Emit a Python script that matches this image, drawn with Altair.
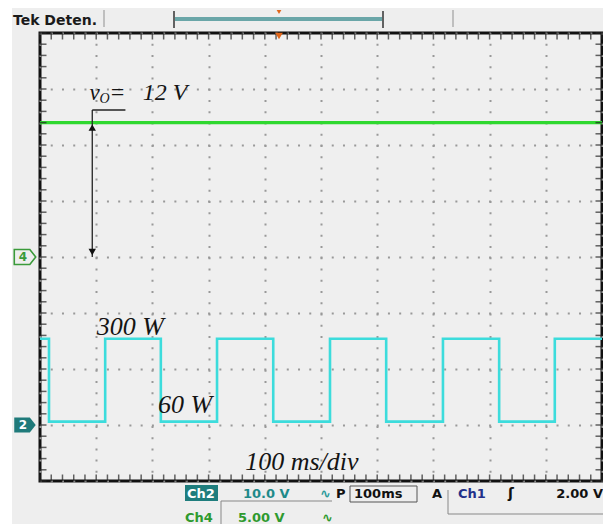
import altair as alt
import pandas as pd
import numpy as np

# ---- acquisition settings -------------------------------------------------
time_window_ms = [0, 1000]          # 10 div x 100 ms/div
screen_divs = [-4, 4]               # 8 vertical divisions

# Ch2 : load step signal (10.0 V/div, ground marker at -3 div)
ch2_scale_v = 10.0
ch2_offset_div = -3.0
ch2_edge_ms = [0, 16, 116, 215, 315, 415, 516, 616, 717, 817, 916, 1000]
ch2_level_v = [15.4, 0.6, 15.4, 0.6, 15.4, 0.6, 15.4, 0.6, 15.4, 0.6, 15.4, 15.4]

# Ch4 : output voltage (5.00 V/div, ground marker at 0 div)
ch4_scale_v = 5.0
ch4_offset_div = 0.0
ch4_time_ms = [0, 1000]
ch4_level_v = [12.0, 12.0]

# ---- derived tables -------------------------------------------------------
ch2 = pd.DataFrame({
    "t": ch2_edge_ms,
    "div": [v / ch2_scale_v + ch2_offset_div for v in ch2_level_v],
})
ch4 = pd.DataFrame({
    "t": ch4_time_ms,
    "div": [v / ch4_scale_v + ch4_offset_div for v in ch4_level_v],
})
vo_div = ch4["div"].iloc[0]

W, H = 562, 448
xs = alt.Scale(domain=time_window_ms, nice=False, zero=False)
ys = alt.Scale(domain=screen_divs, nice=False, zero=False)

GRID = dict(grid=True, gridColor="#999999", gridWidth=2, gridDashOffset=1,
            labels=False, ticks=False, domain=False, title=None)
ax_x = alt.Axis(values=list(range(0, 1001, 100)), gridDash=[2, 9.24], **GRID)
ax_y = alt.Axis(values=list(range(-4, 5)), gridDash=[2, 9.24], **GRID)


def X(field="t"):
    return alt.X(f"{field}:Q", scale=xs, axis=ax_x)


def Y(field="div"):
    return alt.Y(f"{field}:Q", scale=ys, axis=ax_y)


one = pd.DataFrame({"k": [0]})


def px_text(txt, x, y, size, color, weight="bold", align="left",
            font="DejaVu Sans", style="normal"):
    return alt.Chart(one).mark_text(
        text=txt, align=align, baseline="alphabetic", fontSize=size,
        font=font, fontWeight=weight, fontStyle=style, color=color
    ).encode(x=alt.value(x - 40), y=alt.value(y - 33))


def px_rule(x1, y1, x2, y2, color, width=1):
    return alt.Chart(one).mark_rule(color=color, strokeWidth=width).encode(
        x=alt.value(x1 - 40), x2=alt.value(x2 - 40),
        y=alt.value(y1 - 33), y2=alt.value(y2 - 33))


def px_rect(x1, y1, x2, y2, fill, stroke=None):
    kw = dict(fill=fill)
    if stroke:
        kw.update(stroke=stroke, strokeWidth=1)
    return alt.Chart(one).mark_rect(**kw).encode(
        x=alt.value(x1 - 40), x2=alt.value(x2 - 40),
        y=alt.value(y1 - 33), y2=alt.value(y2 - 33))


# ---- traces ---------------------------------------------------------------
trace2 = alt.Chart(ch2).mark_line(
    interpolate="step-after", color="#3cdcdc", strokeWidth=2.6
).encode(x=X(), y=Y())
trace4 = alt.Chart(ch4).mark_line(color="#2fd82f", strokeWidth=3.2).encode(x=X(), y=Y())

# ---- graticule frame ticks ------------------------------------------------
minor_t = pd.DataFrame({"t": np.arange(0, 1001, 20)})
minor_d = pd.DataFrame({"div": np.round(np.arange(-4, 4.01, 0.2), 2)})
tick_kw = dict(color="#222", thickness=1.5, size=7)
frame_ticks = [
    alt.Chart(minor_t).mark_tick(orient="vertical", **tick_kw).encode(x=X(), y=alt.value(3)),
    alt.Chart(minor_t).mark_tick(orient="vertical", **tick_kw).encode(x=X(), y=alt.value(H - 3)),
    alt.Chart(minor_d).mark_tick(orient="horizontal", **tick_kw).encode(y=Y(), x=alt.value(3)),
    alt.Chart(minor_d).mark_tick(orient="horizontal", **tick_kw).encode(y=Y(), x=alt.value(W - 3)),
]

# ---- annotations ----------------------------------------------------------
leader = pd.DataFrame({"t": [93, 93], "t2": [93, 152],
                       "div": [2.625, 2.625], "div2": [vo_div, 2.625]})
leader_rules = alt.Chart(leader).mark_rule(color="#222", strokeWidth=1.3).encode(
    x=X(), x2="t2:Q", y=Y(), y2="div2:Q")
arrow = pd.DataFrame({"t": [93], "div": [vo_div], "div2": [ch4_offset_div]})
arrow_shaft = alt.Chart(arrow).mark_rule(color="#222", strokeWidth=1.3).encode(
    x=X(), y=Y(), y2="div2:Q")
head_up = alt.Chart(arrow).mark_point(shape="triangle-up", filled=True, color="#111",
                                      size=55, opacity=1).encode(
    x=X(), y=Y(), yOffset=alt.value(5))
head_dn = alt.Chart(pd.DataFrame({"t": [93], "div": [ch4_offset_div]})).mark_point(
    shape="triangle-down", filled=True, color="#111", size=55, opacity=1).encode(
    x=X(), y=Y(), yOffset=alt.value(-5))

notes = pd.DataFrame({
    "t": [88, 123, 183, 101, 210, 365],
    "div": [2.80, 2.80, 2.80, -1.39, -2.79, -3.80],
    "label": ["v", "=", "12 V", "300 W", "60 W", "100 ms/div"],
    "fs": [23, 24, 24, 26, 26, 26],
})
note_text = alt.Chart(notes).mark_text(
    align="left", baseline="alphabetic", font="Liberation Serif",
    fontStyle="italic", color="#141414"
).encode(x=X(), y=Y(), text="label:N", size=alt.Size("fs:Q", scale=None, legend=None))
sub_o = alt.Chart(pd.DataFrame({"t": [106], "div": [2.75], "label": ["O"]})).mark_text(
    align="left", baseline="alphabetic", font="Liberation Serif", fontStyle="italic",
    fontSize=14, color="#141414").encode(x=X(), y=Y(), text="label:N")

# ---- channel ground markers -----------------------------------------------
pointer = "M-1,-0.7 L0.45,-0.7 L1,0 L0.45,0.7 L-1,0.7 Z"
gnd4 = pd.DataFrame({"div": [ch4_offset_div], "label": ["4"]})
gnd2 = pd.DataFrame({"div": [ch2_offset_div], "label": ["2"]})
m4 = alt.Chart(gnd4).mark_point(shape=pointer, size=460, filled=False, stroke="#3a9a3a",
                                strokeWidth=1.6, opacity=1).encode(y=Y(), x=alt.value(-15))
m4t = alt.Chart(gnd4).mark_text(fontSize=12, fontWeight="bold", color="#3a9a3a",
                                font="DejaVu Sans", baseline="middle").encode(
    y=Y(), x=alt.value(-17), text="label:N")
m2 = alt.Chart(gnd2).mark_point(shape=pointer, size=460, filled=True, fill="#1f7a7a",
                                opacity=1).encode(y=Y(), x=alt.value(-15))
m2t = alt.Chart(gnd2).mark_text(fontSize=12, fontWeight="bold", color="white",
                                font="DejaVu Sans", baseline="middle").encode(
    y=Y(), x=alt.value(-17), text="label:N")

# ---- screen chrome ----------------------------------------------------------
chrome = [
    px_rect(0, 0, 603, 8, "#ffffff"),
    px_rect(0, 0, 12, 524, "#ffffff"),
    px_text("Tek Deten.", 13, 25, 14, "#1a1a1a"),
    px_rule(104, 10, 104, 27, "#a0a0a0", 1.2),
    px_rule(453, 10, 453, 27, "#a0a0a0", 1.2),
    px_rule(175, 19, 382, 19, "#6aa6a8", 4),
    px_rule(174, 11, 174, 28, "#333", 1.5),
    px_rule(383, 11, 383, 28, "#333", 1.5),
    alt.Chart(one).mark_point(shape="triangle-down", filled=True, color="#e0661a",
                              size=22, opacity=1).encode(x=alt.value(239), y=alt.value(-21)),
    alt.Chart(one).mark_point(shape="triangle-down", filled=True, color="#e0661a",
                              size=60, opacity=1).encode(x=alt.value(239), y=alt.value(3)),
    # readout row 1
    px_rect(185, 485, 218, 501, "#1f7d7d"),
    px_text("Ch2", 201, 498, 13, "#ffffff", align="center"),
    px_text("10.0 V", 243, 498, 13, "#1f8a8a"),
    px_text("\u223f", 320, 498, 13, "#2a9a9a"),
    px_text("P", 336, 498, 13, "#111"),
    px_rect(350, 486, 417, 502, "none", stroke="#555"),
    px_text("100ms", 354, 498, 13, "#111"),
    px_text("A", 432, 498, 13, "#111"),
    px_rule(448, 490, 448, 514, "#888", 1),
    px_rule(448, 514, 603, 514, "#888", 1),
    px_text("Ch1", 458, 498, 13, "#22308a"),
    px_text("\u0283", 508, 498, 14, "#111"),
    px_text("2.00 V", 603, 498, 13, "#111", align="right"),
    # readout row 2
    px_rule(221, 501, 332, 501, "#888", 1),
    px_rule(221, 501, 221, 524, "#888", 1),
    px_text("Ch4", 185, 522, 13, "#2e9a2e"),
    px_text("5.00 V", 238, 522, 13, "#2e9a2e"),
    px_text("\u223f", 322, 522, 13, "#2e9a2e"),
]

chart = alt.layer(
    trace4, trace2, *frame_ticks,
    leader_rules, arrow_shaft, head_up, head_dn, note_text, sub_o,
    m4, m4t, m2, m2t, *chrome,
).properties(
    width=W, height=H,
    padding={"left": 40, "top": 33, "right": 1, "bottom": 43},
    autosize=alt.AutoSizeParams(type="none"),
    background="#eeeeee",
).configure_view(
    stroke="#111", strokeWidth=3, fill="#efefef"
)

chart.save("out.html", embed_options={"renderer": "svg", "actions": False})
